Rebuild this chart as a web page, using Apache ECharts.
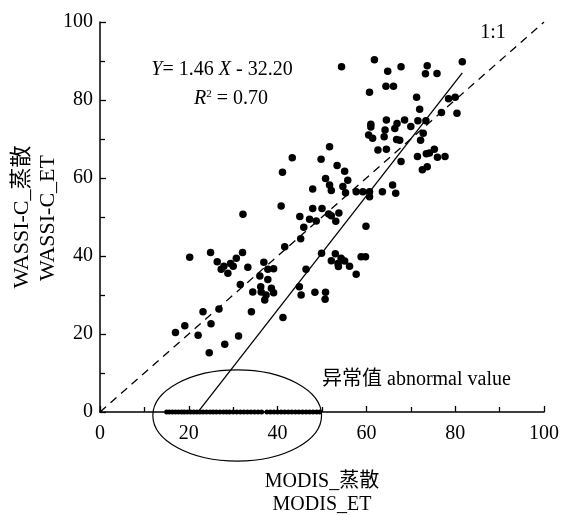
<!DOCTYPE html>
<html>
<head>
<meta charset="utf-8">
<script src="https://cdn.jsdelivr.net/npm/echarts@6/dist/echarts.min.js"></script>
<style>
html,body{margin:0;padding:0;background:#fff;}
#c{width:562px;height:515px;}
</style>
</head>
<body>
<div id="c"></div>
<script>
// MODIS_ET (x) vs WASSI-C_ET (y), normal points
const normalX = [
54.4,61.8,64.8,67.8,73.7,73.3,75.9,81.6,60.7,64.4,66.1,71.3,78.5,80.0,72.0,76.9,80.4,
61.0,61.0,64.5,66.9,68.6,70.0,71.6,73.4,64.2,66.4,72.8,60.5,61.4,64.0,66.8,67.5,72.2,
62.6,64.5,67.8,71.5,73.5,74.2,75.3,76.0,77.7,72.6,73.7,
51.7,43.3,49.8,41.1,53.4,55.1,50.8,55.8,47.9,51.7,52.1,54.7,55.3,57.7,59.2,60.7,60.7,63.6,65.9,66.6,
32.2,40.8,45.0,47.2,47.9,48.7,50.0,51.5,52.1,53.8,53.1,45.9,45.2,41.6,49.9,53.0,52.1,53.6,54.3,55.1,56.2,53.7,
58.8,59.8,57.7,59.9,46.4,44.9,45.3,48.4,50.8,50.7,41.2,
20.2,24.9,32.1,26.4,27.3,27.9,28.8,29.4,30.0,30.7,33.3,36.9,37.8,39.1,36.0,37.8,31.6,34.4,36.2,36.3,37.4,38.6,39.1,37.1,
23.2,26.8,34.1,17.0,19.1,22.1,25.0,28.1,31.2,24.6
];
const normalY = [
88.5,90.3,87.4,88.5,88.8,86.7,86.8,89.8,82.0,83.5,83.5,80.7,80.3,80.7,77.6,76.8,76.6,
73.8,73.1,74.9,74.0,74.9,73.2,74.7,74.7,72.3,72.7,71.5,71.0,70.2,70.6,69.9,69.7,69.7,
67.2,67.4,64.2,65.5,66.2,66.4,67.4,65.3,65.5,62.1,62.9,
68.0,65.2,64.8,61.5,63.2,61.7,59.9,59.4,57.2,58.2,56.8,57.8,56.2,56.5,56.5,56.5,55.2,56.5,58.2,56.1,
50.7,52.8,50.1,49.4,52.2,49.0,52.2,50.8,50.3,51.0,48.9,47.4,44.4,42.4,40.7,40.6,38.8,38.1,39.4,38.7,37.4,37.3,
39.8,39.8,35.3,47.6,36.6,32.1,30.0,30.7,30.7,28.9,24.2,
39.7,40.9,40.9,38.5,36.6,37.4,35.6,38.1,37.4,39.4,37.1,38.4,36.6,36.7,34.9,34.0,32.7,30.8,32.1,30.8,30.0,31.7,30.6,28.7,
25.7,26.4,25.7,20.4,22.1,19.7,22.6,17.4,19.5,15.2
];
// abnormal values (WASSI-C_ET = 0)
const abnormalX = [15.0,15.6,16.3,17.0,17.7,18.4,19.0,19.7,20.4,21.1,21.8,22.5,23.2,24.0,24.8,25.5,26.2,27.0,27.8,28.5,
29.2,30.0,30.8,31.6,32.4,33.2,34.0,34.8,35.6,36.4,37.6,38.4,39.2,40.0,40.8,41.6,42.4,43.2,44.0,44.8,45.6,46.4,47.2,48.0,48.8,49.5];
const abnormalY = abnormalX.map(() => 0);

const fitSlope = 1.46, fitIntercept = -32.20;
const fitRangeX = [22.05, 81.6];
const oneToOneX = [0, 100];

const xTicks = {min:0, max:100, interval:20};
const yTicks = {min:0, max:100, interval:20};

const serif = '"Liberation Serif","Times New Roman","Noto Sans CJK SC",serif';

const chart = echarts.init(document.getElementById('c'), null, {renderer:'canvas'});

function axisCfg(t, margin){
  return {
    type:'value', min:t.min, max:t.max, interval:t.interval,
    axisLine:{show:true, onZero:false, lineStyle:{color:'#000', width:1.5}},
    axisTick:{show:true, inside:true, length:6, lineStyle:{color:'#000', width:1.3}},
    minorTick:{show:true, splitNumber:2, length:5, lineStyle:{color:'#000', width:1.3}},
    splitLine:{show:false},
    minorSplitLine:{show:false},
    axisLabel:{color:'#000', fontFamily:serif, fontSize:20, margin:margin}
  };
}

chart.setOption({
  animation:false,
  backgroundColor:'#fff',
  grid:{left:100, right:17, top:22, bottom:103, containLabel:false},
  xAxis:axisCfg(xTicks, 12),
  yAxis:axisCfg(yTicks, 7),
  series:[
    {type:'line', data:oneToOneX.map(x=>[x,x]), symbol:'none', lineStyle:{color:'#000', width:1.3, type:[8,6]}, z:2},
    {type:'line', data:fitRangeX.map(x=>[x, fitSlope*x+fitIntercept]), symbol:'none', lineStyle:{color:'#000', width:1.3}, z:2},
    {type:'scatter', data:normalX.map((x,i)=>[x, normalY[i]]), symbol:'circle', symbolSize:7.5, itemStyle:{color:'#000', opacity:1}, z:3},
    {type:'scatter', data:abnormalX.map((x,i)=>[x, abnormalY[i]]), symbol:'circle', symbolSize:5, itemStyle:{color:'#000', opacity:1}, clip:false, z:3}
  ]
});

const c = chart.convertToPixel({gridIndex:0}, [30.9, -0.9]);
const e1 = chart.convertToPixel({gridIndex:0}, [30.9+19, -0.9+11.7]);

chart.setOption({
  graphic:[
    {type:'ellipse', shape:{cx:c[0], cy:c[1], rx:e1[0]-c[0], ry:c[1]-e1[1]}, style:{fill:'none', stroke:'#000', lineWidth:1.2}, z:10},
    {type:'text', x:222, y:70, style:{text:'{i|Y}= 1.46 {i|X} - 32.20', align:'center', verticalAlign:'middle', font:'20px '+serif, fill:'#000',
      rich:{i:{fontStyle:'italic', fontFamily:serif, fontSize:20, fill:'#000'}}}},
    {type:'text', x:231, y:99, style:{text:'{i|R}{s|2} = 0.70', align:'center', verticalAlign:'middle', font:'20px '+serif, fill:'#000',
      rich:{i:{fontStyle:'italic', fontFamily:serif, fontSize:20}, s:{fontFamily:serif, fontSize:11, verticalAlign:'top', padding:[0,0,8,0]}}}},
    {type:'text', x:493, y:33, style:{text:'1:1', align:'center', verticalAlign:'middle', font:'20px '+serif, fill:'#000'}},
    {type:'text', x:322, y:380, style:{text:'异常值 abnormal value', align:'left', verticalAlign:'middle', font:'20px '+serif, fill:'#000'}},
    {type:'text', x:322, y:482, style:{text:'MODIS_蒸散', align:'center', verticalAlign:'middle', font:'20px '+serif, fill:'#000'}},
    {type:'text', x:322, y:505, style:{text:'MODIS_ET', align:'center', verticalAlign:'middle', font:'20px '+serif, fill:'#000'}},
    {type:'text', x:22, y:217, rotation:Math.PI/2, style:{text:'WASSI-C_蒸散', align:'center', verticalAlign:'middle', font:'22px '+serif, fill:'#000'}},
    {type:'text', x:48, y:218, rotation:Math.PI/2, style:{text:'WASSI-C_ET', align:'center', verticalAlign:'middle', font:'22px '+serif, fill:'#000'}}
  ]
});
</script>
</body>
</html>
